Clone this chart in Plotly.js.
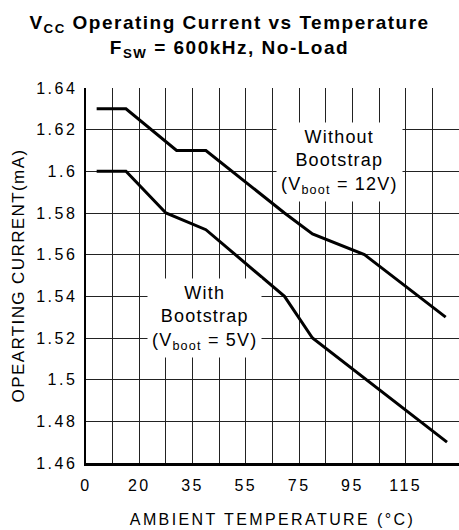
<!DOCTYPE html>
<html>
<head>
<meta charset="utf-8">
<script src="https://cdn.plot.ly/plotly-3.0.1.min.js"></script>
<style>
  html, body { margin: 0; padding: 0; background: #fff; }
  #chart { width: 459px; height: 530px; }
  .gtitle { letter-spacing: 1.5px; }
  .xtick text, .ytick text { letter-spacing: 2.5px; }
  .xtitle { letter-spacing: 2.4px; }
  .ytitle { letter-spacing: 1.4px; }
  .annotation-text { letter-spacing: 1.2px; }
</style>
</head>
<body>
<div id="chart"></div>
<script>
// Axis ticks (x positions are grid slots of the original chart; labels as printed)
const xTickVals = [0, 10, 20, 30, 40, 50, 60, 70, 80, 90, 100, 110, 120, 130, 140];
const xTickText = ['0', '', '20', '', '35', '', '55', '', '75', '', '95', '', '115', '', ''];

// Series: Without Bootstrap (Vboot = 12V)
const withoutX = [4, 15, 34, 45, 74.5, 85, 104.5, 135];
const withoutY = [1.63, 1.63, 1.61, 1.61, 1.58, 1.57, 1.56, 1.53];

// Series: With Bootstrap (Vboot = 5V)
const withX = [4, 15, 30, 45, 74.5, 85, 135.5];
const withY = [1.60, 1.60, 1.58, 1.572, 1.54, 1.52, 1.47];

const font = 'Liberation Sans, Arial, Helvetica, sans-serif';

const traces = [
  { x: withoutX, y: withoutY, mode: 'lines', name: 'Without Bootstrap',
    line: { color: '#000', width: 3 }, hoverinfo: 'skip' },
  { x: withX, y: withY, mode: 'lines', name: 'With Bootstrap',
    line: { color: '#000', width: 3 }, hoverinfo: 'skip' }
];

const layout = {
  width: 459, height: 530,
  margin: { l: 86, r: 0, t: 88, b: 67, pad: 0 },
  paper_bgcolor: '#fff', plot_bgcolor: '#fff',
  showlegend: false,
  font: { family: font, color: '#000', size: 16 },
  title: {
    text: 'V<sub>CC</sub> Operating Current vs Temperature<br>F<sub>SW</sub> = 600kHz, No-Load',
    font: { family: font, size: 19, weight: 'bold', color: '#000' },
    x: 0.5, xref: 'container', xanchor: 'center',
    y: 0.945, yref: 'container', yanchor: 'top'
  },
  xaxis: {
    range: [0, 140],
    tickmode: 'array', tickvals: xTickVals, ticktext: xTickText,
    showgrid: true, gridcolor: '#222', gridwidth: 1,
    zeroline: false,
    showline: true, linecolor: '#000', linewidth: 2.5,
    ticks: '', ticklabelstandoff: 6,
    tickfont: { family: font, size: 16, color: '#000' },
    title: { text: 'AMBIENT TEMPERATURE (°C)', font: { family: font, size: 16, color: '#000' }, standoff: 21 },
    fixedrange: true
  },
  yaxis: {
    range: [1.46, 1.64],
    tick0: 1.46, dtick: 0.02,
    showgrid: true, gridcolor: '#222', gridwidth: 1,
    zeroline: false,
    showline: true, linecolor: '#000', linewidth: 2.5,
    ticks: '', ticklabelstandoff: 3,
    tickfont: { family: font, size: 16, color: '#000' },
    title: { text: 'OPEARTING CURRENT(mA)', font: { family: font, size: 17, color: '#000' }, standoff: 7 },
    fixedrange: true
  },
  annotations: [
    { x: 95.3, y: 1.6043, xref: 'x', yref: 'y', showarrow: false,
      text: 'Without<br>Bootstrap<br>(V<sub>boot</sub> = 12V)',
      font: { family: font, size: 18, color: '#000' },
      bgcolor: '#fff', borderpad: 4, align: 'center' },
    { x: 44.3, y: 1.5297, xref: 'x', yref: 'y', showarrow: false,
      text: 'With<br>Bootstrap<br>(V<sub>boot</sub> = 5V)',
      font: { family: font, size: 18, color: '#000' },
      bgcolor: '#fff', borderpad: 4, align: 'center' }
  ]
};

Plotly.newPlot('chart', traces, layout, { displayModeBar: false, staticPlot: true });
</script>
</body>
</html>
